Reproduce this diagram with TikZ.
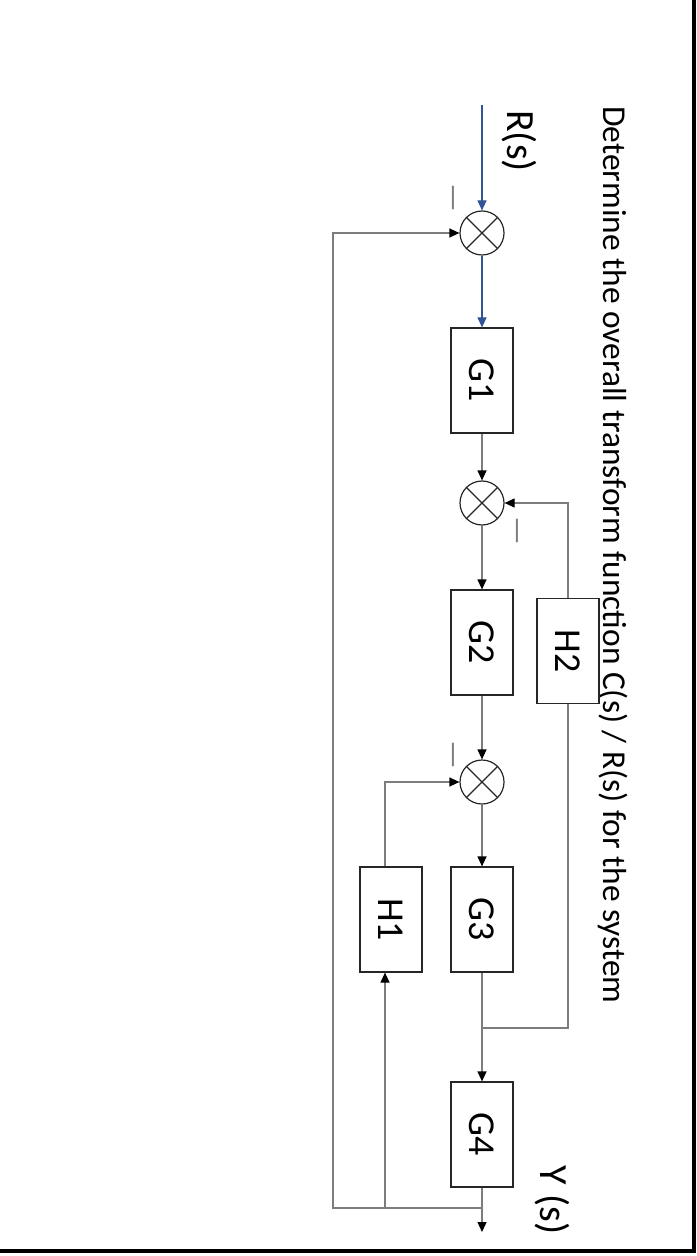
\documentclass[tikz,border=0pt]{standalone}
\usepackage{fontspec}
\setmainfont{Carlito}
\usepackage{graphicx}
\usetikzlibrary{calc, positioning}
\usetikzlibrary{arrows.meta}

\definecolor{linegray}{RGB}{125,125,125}
\definecolor{signavy}{RGB}{47,85,151}
\newcommand{\vtext}[1]{\rotatebox{-90}{#1}}

\begin{document}
\begin{tikzpicture}[x=0.5pt, y=-0.5pt,
  block/.style={draw=black!85, line width=0.6pt, minimum width=31pt, minimum height=52.5pt, inner sep=0pt, font=\fontsize{19}{21}\selectfont},
  sum/.style={draw=black!85, line width=0.6pt, circle, minimum size=22pt, inner sep=0pt,
    path picture={\draw[black!85, line width=0.6pt]
      (path picture bounding box.north west) -- (path picture bounding box.south east)
      (path picture bounding box.north east) -- (path picture bounding box.south west);}},
  wire/.style={draw=linegray, line width=0.6pt},
  sig/.style={wire, -{Triangle[length=5pt, width=4.5pt, color=black]}},
  bluesig/.style={draw=signavy, line width=0.6pt, -{Triangle[length=5pt, width=4.5pt]}},
  lbl/.style={rotate=-90, inner sep=0pt, font=\fontsize{20}{22}\selectfont},
  minus/.style={rotate=-90, inner sep=0pt, text=linegray, font=\fontsize{16}{18}\selectfont}]
\useasboundingbox (0,0) rectangle (696,1256);
\draw[line width=2pt] (694,0) -- (694,1251) -- (0,1251);

\node[rotate=-90, font=\fontsize{16.7}{19}\selectfont] (title) at (613,555) {Determine the overall transform function C(s) / R(s) for the system};

\coordinate (rin) at (482,105);
\node[sum] (S1) at (482,233) {};
\node[block] (G1) at (482,380.5) {\vtext{G1}};
\node[sum] (S2) at (482,503) {};
\node[block] (G2) at (482,642.5) {\vtext{G2}};
\node[block] (H2) at (568,651) {\vtext{H2}};
\node[sum] (S3) at (482,782) {};
\node[block] (G3) at (482,919.5) {\vtext{G3}};
\node[block] (H1) at (391,919.5) {\vtext{H1}};
\node[block] (G4) at (482,1134.5) {\vtext{G4}};
\coordinate (j1) at (482,1028);
\coordinate (j2) at (482,1208);
\coordinate (yout) at (482,1232);
\coordinate (fb) at (333,1208);
\coordinate (h1in) at ($(H1.south)+(-6,0)$);
\coordinate (h1out) at ($(H1.north)+(-6,0)$);

\node[lbl] (R) at (519,141) {R(s)};
\node[lbl] (Y) at (552,1200) {Y (s)};
\node[minus] (m1) at (449,198) {—};
\node[minus] (m2) at (513,531) {—};
\node[minus] (m3) at (449,755) {—};

\draw[bluesig] (rin) -- (S1.north);
\draw[bluesig] (S1.south) -- (G1.north);
\draw[sig] (G1.south) -- (S2.north);
\draw[sig] (S2.south) -- (G2.north);
\draw[sig] (G2.south) -- (S3.north);
\draw[sig] (S3.south) -- (G3.north);
\draw[sig] (G3.south) -- (G4.north);
\draw[sig] (G4.south) -- (yout);

\draw[wire] (j1) -| (H2.south);
\draw[sig] (H2.north) |- (S2.east);
\draw[sig] (h1in |- j2) -- (h1in);
\draw[sig] (h1out) |- (S3.west);
\draw[sig] (j2) -- (fb) |- (S1.west);
\end{tikzpicture}
\end{document}
